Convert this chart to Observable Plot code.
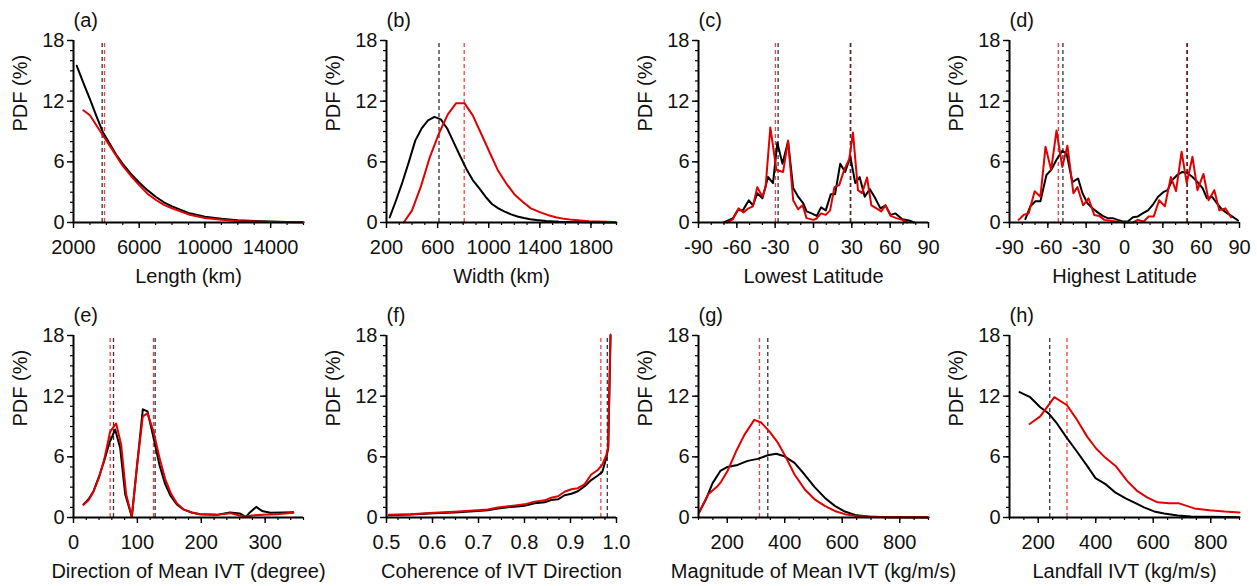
<!DOCTYPE html>
<html>
<head>
<meta charset="utf-8">
<script src="https://cdn.jsdelivr.net/npm/d3@7"></script>
<script src="https://cdn.jsdelivr.net/npm/@observablehq/plot@0.6"></script>
<style>
  html, body { margin: 0; padding: 0; background: #fff; }
  #root { position: relative; width: 1257px; height: 586px; overflow: hidden; }
  #root svg { position: absolute; max-width: none; }
</style>
</head>
<body>
<div id="root"></div>
<script>
// ---------- (a) Length ----------
const lenXBlack = [2200,2600,3000,3400,3800,4200,4600,5000,5500,6000,6500,7000,7500,8000,9000,10000,11000,12000,13000,14000,15000,16000];
const lenYBlack = [15.5,13.8,12.2,10.5,8.9,7.8,6.7,5.8,4.8,3.95,3.2,2.55,2.0,1.6,0.95,0.58,0.36,0.23,0.15,0.09,0.05,0.03];
const lenXRed = [2600,3000,3400,3800,4200,4600,5000,5500,6000,6500,7000,7500,8000,9000,10000,11000,12000,13000,14000,15000,16000];
const lenYRed = [11.1,10.6,9.6,8.6,7.6,6.6,5.6,4.6,3.7,2.85,2.25,1.75,1.4,0.8,0.45,0.28,0.16,0.1,0.06,0.03,0.02];
const lenMeans = {black: 3745, red: 3887};

// ---------- (b) Width ----------
const widXBlack = [225,275,325,375,425,475,525,575,625,675,725,775,825,875,925,975,1025,1075,1125,1175,1225,1275,1325,1375,1450,1550,1650,1800,2000];
const widYBlack = [0.5,2.2,4.0,6.0,8.1,9.3,10.1,10.45,10.2,9.3,7.95,6.6,5.3,4.2,3.4,2.55,1.83,1.4,1.08,0.8,0.6,0.45,0.33,0.24,0.15,0.08,0.04,0.02,0.01];
const widXRed = [335,400,470,540,610,680,745,810,875,940,1005,1070,1135,1200,1265,1330,1395,1460,1525,1590,1655,1720,1785,1850,1915,1980];
const widYRed = [0,1.2,3.6,6.5,8.8,10.7,11.8,11.8,10.6,8.8,7.0,5.2,3.9,2.8,2.05,1.4,1.05,0.75,0.52,0.36,0.26,0.2,0.13,0.1,0.07,0.04];
const widMeans = {black: 611, red: 808};

// ---------- (c) Lowest Latitude ----------
const lowXBlack = [-70.3,-63.2,-59.3,-55.3,-50.6,-47.4,-44,-40,-35.6,-31.7,-28.3,-24.3,-19.9,-15.9,-12,-8,-5.4,-1.5,2.5,5.9,9.6,13.5,16.9,20.9,24.8,28.8,32.7,36.1,40.1,44,47.7,52.4,56.3,60.3,64.2,69.5,74.7,78.7];
const lowYBlack = [0,0.4,1.2,1.2,2.2,1.7,2.9,2.4,4.5,3.9,7.9,5.8,8.0,3.4,2.55,1.9,1.1,0.9,0.65,1.5,1.2,2.8,2.8,5.8,5.0,6.5,3.9,4.5,2.55,3.3,2.55,1.4,1.7,0.75,0.9,0.33,0.2,0];
const lowXRed = [-67.7,-63.2,-58.7,-54.8,-50.9,-47.4,-44,-40,-37.5,-33.8,-29,-23.8,-19.9,-15.9,-12,-8.6,-5.4,-0.1,2.5,5.9,9.6,13,16.4,20.1,24,28,30.9,34.8,38,41.9,45.3,49.3,53,56.3,60.3,64.8,69.5,73.4];
const lowYRed = [0,0.3,1.4,1.0,1.4,1.6,3.5,2.55,3.5,9.4,5.2,5.0,8.1,2.2,1.3,1.7,0.43,0.26,0.4,0.9,0.75,1.2,3.5,3.7,5.2,6.3,8.9,3.2,2.9,4.45,1.7,1.4,1.1,1.7,0.65,0.43,0.26,0];
const lowMeans = {black: [-27.7, 28.8], red: [-29.8, 29.3]};

// ---------- (d) Highest Latitude ----------
const highXBlack = [-77.6,-73.7,-69.7,-65.8,-61.1,-57.4,-53.2,-48.7,-45.3,-40.8,-36.3,-32.9,-29,-25,-21,-17.1,-13.2,-9.2,-5.3,-1.3,2.6,6.6,10.5,14.5,18.4,22.4,26.3,30.3,33.7,37.4,41.3,45.3,49.2,53.2,57.1,61.1,64.5,68.4,72.4,76.3,80.3,84.2,88.9];
const highYBlack = [0.33,1.6,2.1,2.1,4.7,5.2,6.2,7.1,6.8,4.0,4.35,2.9,1.9,1.4,1.0,0.65,0.43,0.43,0.26,0.1,0.1,0.52,0.6,0.92,1.2,1.8,2.55,3.0,3.2,4.2,4.7,5.0,4.9,4.5,4.0,3.4,2.4,2.55,1.9,1.3,0.92,0.6,0.2];
const highXRed = [-82.9,-78.9,-75,-70.3,-65.8,-61.8,-57.4,-53.2,-48.7,-44.7,-40,-36.8,-32.4,-28.2,-23.7,-19.7,-15.8,-10.5,-5.3,1.3,6.6,10.5,15,18.9,22.9,27.1,31.6,36.3,40.3,44.7,48.7,53.2,57.1,61.8,65.8,70.3,74.2,78.9,83.4];
const highYRed = [0.26,0.75,0.92,3.1,2.55,7.5,5.2,9.1,5.5,7.6,2.9,3.5,1.7,2.4,0.75,0.65,0.26,0.16,0.07,0,0,0.26,0.1,0.6,0.6,2.2,1.6,4.5,3.1,7.0,3.9,6.5,3.2,4.8,2.2,3.2,1.2,1.4,0.52];
const highMeans = {black: [-48.2, 49.2], red: [-51.8, 48.6]};

// ---------- (e) Direction of Mean IVT ----------
const dirXBlack = [15.6,23.5,31.3,40.2,48,56.3,65.2,73,80.9,91.3,99.1,108.5,115.8,125.2,134.6,143.5,152.3,161.7,172,185,198,224,245,260,270,276,286,295,308,329,344];
const dirYBlack = [1.3,1.8,2.6,4.1,5.6,7.4,8.7,6.9,2.3,0.07,4.9,10.7,10.5,7.9,5.2,3.3,2.1,1.3,0.8,0.5,0.33,0.26,0.5,0.4,0.07,0.5,1.05,0.65,0.46,0.5,0.52];
const dirXRed = [15.6,23.5,31.3,40.2,48,57.4,66.8,74.6,82.4,91.3,99.1,108.5,115.8,125.2,134.6,143.5,152.3,161.7,172,185,198,224,245,260,270,279,297,318,344];
const dirYRed = [1.25,1.7,2.55,4.0,5.7,8.5,9.3,7.2,2.3,0.07,4.9,10.0,10.3,8.5,5.9,3.8,2.4,1.4,0.8,0.5,0.33,0.26,0.43,0.2,0.07,0.2,0.26,0.33,0.46];
const dirMeans = {black: [62.6, 127.8], red: [57.4, 125.2]};

// ---------- (f) Coherence of IVT Direction ----------
const cohX = [0.505,0.552,0.603,0.647,0.698,0.72,0.742,0.771,0.8,0.822,0.844,0.858,0.873,0.887,0.902,0.916,0.931,0.945,0.958,0.969,0.978,0.982,0.987];
const cohYBlack = [0.23,0.3,0.43,0.5,0.65,0.72,0.88,1.05,1.15,1.4,1.5,1.73,1.8,2.2,2.35,2.6,3.1,3.7,4.1,4.5,5.9,6.9,18];
const cohYRed = [0.26,0.33,0.46,0.56,0.72,0.8,0.98,1.15,1.3,1.57,1.7,1.96,2.1,2.55,2.8,2.9,3.3,4.25,4.65,5.2,6.2,7.0,18.1];
const cohMeans = {black: 0.980, red: 0.966};

// ---------- (g) Magnitude of Mean IVT ----------
const magXBlack = [102,126,149,176,201,236,271,306,341,370,399,434,469,504,539,574,609,644,690,760,900];
const magYBlack = [0.5,1.8,3.4,4.6,5.0,5.2,5.6,5.8,6.15,6.3,6.05,5.4,4.25,3.0,1.96,1.15,0.59,0.26,0.1,0.03,0];
const magXRed = [102,134,166,178,201,230,260,294,318,347,376,405,434,469,504,539,574,609,644,700,760,900];
const magYRed = [0.5,2.3,3.1,3.5,4.6,6.5,8.2,9.65,9.4,8.5,7.4,5.9,4.25,2.8,1.8,1.15,0.65,0.33,0.16,0.07,0.03,0.02];
const magMeans = {black: 341, red: 312};

// ---------- (h) Landfall IVT ----------
const lfXBlack = [135,172,207,236,265,300,335,370,399,434,469,504,533,568,603,638,685,731,801,900];
const lfYBlack = [12.4,11.9,10.9,10.3,9.3,7.85,6.5,5.1,3.9,3.3,2.45,1.9,1.5,1.0,0.6,0.4,0.2,0.1,0.07,0.03];
const lfXRed = [170,207,256,300,335,370,402,434,469,510,545,580,615,655,690,743,795,848,900];
const lfYRed = [9.25,10.0,11.9,11.1,9.65,8.0,6.8,5.9,5.1,3.6,2.6,1.96,1.5,1.4,1.4,0.9,0.72,0.59,0.5];
const lfMeans = {black: 240, red: 300};

// ---------- axis ticks / labels ----------
const tags = ["(a)","(b)","(c)","(d)","(e)","(f)","(g)","(h)"];
const xTitles = ["Length (km)","Width (km)","Lowest Latitude","Highest Latitude",
  "Direction of Mean IVT (degree)","Coherence of IVT Direction","Magnitude of Mean IVT (kg/m/s)","Landfall IVT (kg/m/s)"];
const yTitle = "PDF (%)";
const yMajor = [0, 6, 12, 18];
const yMinor = d3.range(0, 19, 1);

const lenMajor = [2000, 6000, 10000, 14000];
const widMajor = [200, 600, 1000, 1400, 1800];
const latMajor = [-90, -60, -30, 0, 30, 60, 90];
const dirMajor = [0, 100, 200, 300];
const cohMajor = [0.5, 0.6, 0.7, 0.8, 0.9, 1.0];
const ivtMajor = [200, 400, 600, 800];

const zip = (xs, ys) => xs.map((x, i) => ({x, y: ys[i]}));
const arr = v => Array.isArray(v) ? v : [v];
const plain = d => String(d);

const panels = [
  {domain: [2000, 16000], major: lenMajor, minor: d3.range(2000, 16001, 1000), black: zip(lenXBlack, lenYBlack), red: zip(lenXRed, lenYRed), means: lenMeans},
  {domain: [200, 2000], major: widMajor, minor: d3.range(200, 2001, 100), black: zip(widXBlack, widYBlack), red: zip(widXRed, widYRed), means: widMeans},
  {domain: [-90, 90], major: latMajor, minor: d3.range(-90, 91, 10), black: zip(lowXBlack, lowYBlack), red: zip(lowXRed, lowYRed), means: lowMeans},
  {domain: [-90, 90], major: latMajor, minor: d3.range(-90, 91, 10), black: zip(highXBlack, highYBlack), red: zip(highXRed, highYRed), means: highMeans},
  {domain: [0, 360], major: dirMajor, minor: d3.range(0, 361, 20), black: zip(dirXBlack, dirYBlack), red: zip(dirXRed, dirYRed), means: dirMeans},
  {domain: [0.5, 1.0], major: cohMajor, minor: d3.range(0, 21).map(i => 0.5 + i * 0.025), fmt: d => d.toFixed(1), black: zip(cohX, cohYBlack), red: zip(cohX, cohYRed), means: cohMeans},
  {domain: [100, 900], major: ivtMajor, minor: d3.range(100, 901, 50), black: zip(magXBlack, magYBlack), red: zip(magXRed, magYRed), means: magMeans},
  {domain: [100, 900], major: ivtMajor, minor: d3.range(100, 901, 50), black: zip(lfXBlack, lfYBlack), red: zip(lfXRed, lfYRed), means: lfMeans}
];

const lefts = [0, 313, 625, 936];
const tops = [0, 295];
const FONT = "Liberation Sans, Arial, Helvetica, sans-serif";
const RED = "#e00000";

const root = document.getElementById("root");
panels.forEach((p, i) => {
  const svg = Plot.plot({
    width: 312, height: 293,
    marginLeft: 73, marginRight: 9, marginTop: 40, marginBottom: 71,
    x: {domain: p.domain},
    y: {domain: [0, 18]},
    style: {fontFamily: FONT, fontSize: "20px", color: "#000", background: "transparent", overflow: "visible"},
    marks: [
      Plot.axisY({ticks: yMinor, tickSize: 3, tickFormat: () => "", label: null, strokeWidth: 1.2}),
      Plot.axisY({ticks: yMajor, tickSize: 6, tickPadding: 3, label: null, fontSize: 20, strokeWidth: 1.4, tickFormat: plain, fill: "#111"}),
      Plot.axisX({ticks: p.minor, tickSize: 3, tickFormat: () => "", label: null, strokeWidth: 1.2}),
      Plot.axisX({ticks: p.major, tickSize: 6, tickPadding: 11, label: null, fontSize: 20, strokeWidth: 1.4, tickFormat: p.fmt || plain, fill: "#111"}),
      Plot.ruleX(arr(p.means.red), {x: d => d, y1: 0, y2: 18, stroke: "#f04040", strokeWidth: 1.3, strokeDasharray: "4,3"}),
      Plot.ruleX(arr(p.means.black), {x: d => d, y1: 0, y2: 18, stroke: "#333", strokeWidth: 1.3, strokeDasharray: "4,3"}),
      Plot.line(p.black, {x: "x", y: "y", stroke: "#000", strokeWidth: 2}),
      Plot.line(p.red, {x: "x", y: "y", stroke: RED, strokeWidth: 2}),
      Plot.ruleX([p.domain[0]], {stroke: "#000", strokeWidth: 2}),
      Plot.ruleY([0], {stroke: "#000", strokeWidth: 2}),
      Plot.text([xTitles[i]], {text: d => d, frameAnchor: "bottom", dy: 54, fontSize: 20, lineAnchor: "middle", fill: "#111"}),
      Plot.text([yTitle], {text: d => d, frameAnchor: "left", dx: -53, rotate: -90, fontSize: 20, lineAnchor: "middle", fill: "#111"}),
      Plot.text([tags[i]], {text: d => d, frameAnchor: "top-left", dy: -20, textAnchor: "start", lineAnchor: "middle", fontSize: 20, fill: "#111"})
    ]
  });
  svg.style.left = lefts[i % 4] + "px";
  svg.style.top = tops[Math.floor(i / 4)] + "px";
  root.appendChild(svg);
});
</script>
</body>
</html>
